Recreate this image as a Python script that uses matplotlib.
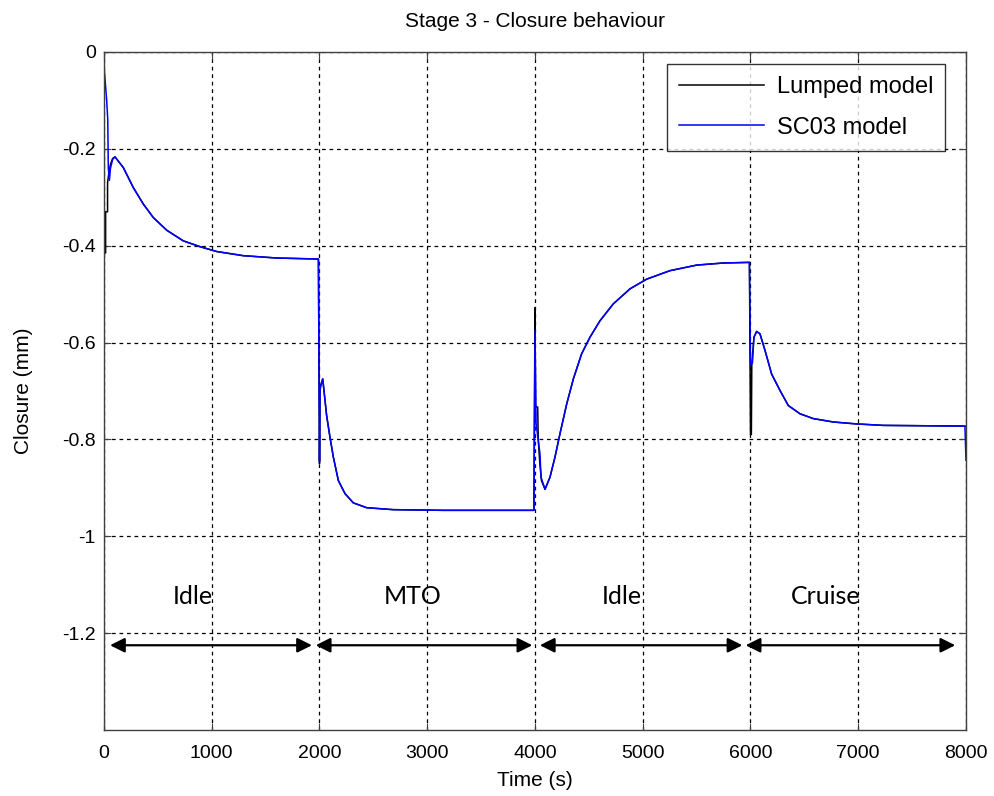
import matplotlib
matplotlib.use("Agg")
import matplotlib.pyplot as plt

plt.rcParams['axes.unicode_minus'] = False
plt.rcParams['font.family'] = ['Liberation Sans', 'DejaVu Sans']

# ---- data ----
t_lumped = [0, 15, 15, 33, 33, 45, 60, 80, 102, 179, 272, 365, 458, 582, 736, 891, 1046, 1293, 1602, 1990,
            2000, 2005, 2011, 2030, 2066, 2097, 2128, 2175, 2237, 2314, 2438, 2685, 3149, 3990,
            4000, 4005, 4025, 4030, 4045, 4060, 4093, 4139, 4186, 4232, 4294, 4356, 4433, 4510, 4603,
            4727, 4882, 5037, 5253, 5501, 5748, 5990,
            6000, 6008, 6012, 6032, 6057, 6088, 6135, 6196, 6274, 6351, 6459, 6583, 6769, 6985, 7233, 8000]
v_lumped = [-0.415, -0.415, -0.33, -0.33, -0.27, -0.25, -0.232, -0.22, -0.2165, -0.2385, -0.280, -0.314,
            -0.342, -0.368, -0.390, -0.402, -0.412, -0.4206, -0.4254, -0.4275,
            -0.85, -0.70, -0.689, -0.675, -0.7505, -0.795, -0.836, -0.885, -0.912, -0.931, -0.941, -0.945,
            -0.9464, -0.9464,
            -0.528, -0.733, -0.733, -0.80, -0.85, -0.885, -0.903, -0.878, -0.836, -0.788, -0.727, -0.675,
            -0.623, -0.589, -0.555, -0.520, -0.489, -0.469, -0.4515, -0.440, -0.4357, -0.4344,
            -0.79, -0.79, -0.645, -0.589, -0.577, -0.582, -0.6165, -0.665, -0.699, -0.730, -0.747, -0.757,
            -0.764, -0.768, -0.771, -0.7725]

t_sc03 = [0, 25, 35, 40, 50, 60, 80, 102, 179, 272, 365, 458, 582, 736, 891, 1046, 1293, 1602, 1990,
          2000, 2005, 2011, 2030, 2066, 2097, 2128, 2175, 2237, 2314, 2438, 2685, 3149, 3990,
          4000, 4010, 4046, 4056, 4093, 4139, 4186, 4232, 4294, 4356, 4433, 4510, 4603,
          4727, 4882, 5037, 5253, 5501, 5748, 5990,
          6000, 6018, 6032, 6057, 6088, 6135, 6196, 6274, 6351, 6459, 6583, 6769, 6985, 7233, 7990, 8000]
v_sc03 = [-0.03, -0.10, -0.14, -0.24, -0.265, -0.24, -0.222, -0.2165, -0.2385, -0.280, -0.314, -0.342,
          -0.368, -0.390, -0.402, -0.412, -0.4206, -0.4254, -0.4275,
          -0.845, -0.70, -0.689, -0.675, -0.7505, -0.795, -0.836, -0.885, -0.912, -0.931, -0.941, -0.945,
          -0.9464, -0.9464,
          -0.575, -0.767, -0.829, -0.878, -0.903, -0.878, -0.836, -0.788, -0.727, -0.675,
          -0.623, -0.589, -0.555, -0.520, -0.489, -0.469, -0.4515, -0.440, -0.4357, -0.4344,
          -0.647, -0.642, -0.589, -0.577, -0.582, -0.6165, -0.665, -0.699, -0.730, -0.747, -0.757,
          -0.764, -0.768, -0.771, -0.7725, -0.843]

phase_names = ["Idle", "MTO", "Idle", "Cruise"]
phase_label_x = [821, 2868, 4807, 6700]
phase_starts = [56, 1965, 4045, 5955]
phase_ends = [1930, 3975, 5925, 7900]
phase_label_y = -1.125
arrow_y = -1.225

x_ticks = [0, 1000, 2000, 3000, 4000, 5000, 6000, 7000, 8000]
y_ticks = [0, -0.2, -0.4, -0.6, -0.8, -1.0, -1.2]
y_ticklabels = ["0", "-0.2", "-0.4", "-0.6", "-0.8", "-1", "-1.2"]

# ---- figure ----
fig = plt.figure(figsize=(9.95, 7.96), dpi=100)
ax = fig.add_axes([104/995, 1 - 730/796, 862/995, 678/796])

ax.plot(t_lumped, v_lumped, color='black', lw=1.1, label='Lumped model')
ax.plot(t_sc03, v_sc03, color='#0000ff', lw=1.1, label='SC03 model')

ax.set_xlim(0, 8000)
ax.set_ylim(-1.4, 0)
ax.set_xticks(x_ticks)
ax.set_yticks(y_ticks)
ax.set_yticklabels(y_ticklabels)
ax.tick_params(direction='in', top=True, right=True, length=5, width=0.8,
               labelsize=14, color='#404040', pad=6)
ax.tick_params(axis='x', pad=11)
for s in ax.spines.values():
    s.set_color('#404040')
    s.set_linewidth(1.0)
ax.grid(True, color='black', linestyle=(0, (3, 3)), linewidth=0.9)

ax.set_xlabel('Time (s)', fontsize=15, labelpad=6)
ax.set_ylabel('Closure (mm)', fontsize=15, labelpad=21)
ax.set_title('Stage 3 - Closure behaviour', fontsize=15, pad=18)

for name, xc in zip(phase_names, phase_label_x):
    ax.text(xc, phase_label_y, name, ha='center', va='center', fontsize=18,
            family=['Lato', 'DejaVu Sans'])
for a, b in zip(phase_starts, phase_ends):
    ax.annotate('', xy=(b, arrow_y), xytext=(a, arrow_y),
                arrowprops=dict(arrowstyle='<|-|>', color='black', lw=1.6,
                                mutation_scale=22, shrinkA=0, shrinkB=0))

leg = ax.legend(loc='upper right', bbox_to_anchor=((945 - 104)/862, 1 - 12/678),
                borderaxespad=0, fontsize=17, frameon=True, fancybox=False, borderpad=0.5,
                handlelength=3.6, handletextpad=0.55, labelspacing=0.8)
leg.get_frame().set_edgecolor('black')
leg.get_frame().set_linewidth(1.0)

fig.savefig('out.png', dpi=100)
